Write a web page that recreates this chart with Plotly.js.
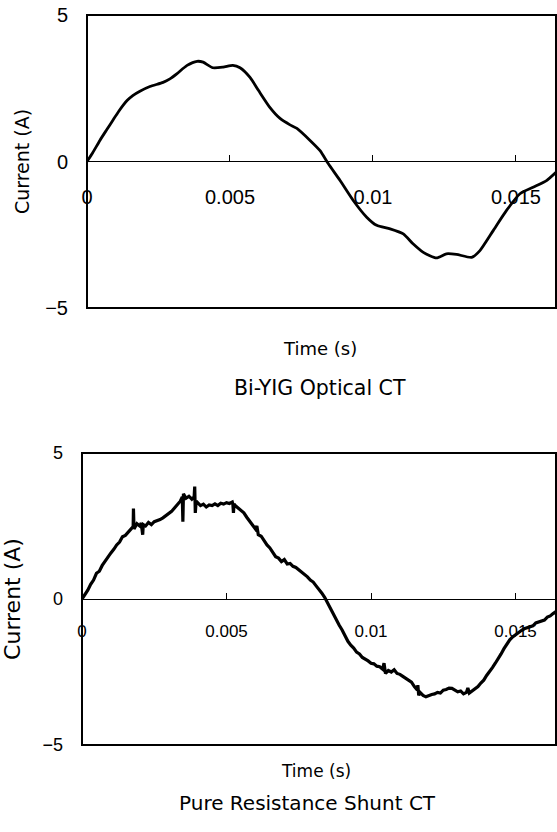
<!DOCTYPE html>
<html>
<head>
<meta charset="utf-8">
<script src="https://cdn.plot.ly/plotly-3.0.1.min.js"></script>
<style>html,body{margin:0;padding:0;background:#fff;}#chart{width:557px;height:832px;}</style>
</head>
<body>
<div id="chart"></div>
<script>
// Top chart: Bi-YIG Optical CT (time in s, current in A)
const topTime = [0, 0.0002, 0.00045, 0.0007, 0.0009, 0.0011, 0.0014, 0.0016, 0.00185, 0.0022, 0.00266, 0.0029, 0.00315, 0.0035, 0.00385, 0.00406, 0.0044, 0.00476, 0.0051, 0.00535, 0.0057, 0.006, 0.0064, 0.00675, 0.0071, 0.00734, 0.0078, 0.00815, 0.00844, 0.00885, 0.00931, 0.00978, 0.01013, 0.0106, 0.01106, 0.0114, 0.01176, 0.01222, 0.01257, 0.01292, 0.01345, 0.01374, 0.01421, 0.01467, 0.01514, 0.0156, 0.01607, 0.0164];
const topCurrent = [0, 0.3, 0.72, 1.1, 1.4, 1.7, 2.08, 2.25, 2.4, 2.56, 2.7, 2.82, 3.0, 3.28, 3.42, 3.39, 3.2, 3.22, 3.28, 3.2, 2.87, 2.42, 1.84, 1.47, 1.25, 1.13, 0.72, 0.37, -0.08, -0.65, -1.33, -1.9, -2.18, -2.3, -2.47, -2.81, -3.1, -3.29, -3.15, -3.17, -3.27, -3.04, -2.35, -1.67, -1.1, -0.88, -0.65, -0.37];

// Bottom chart: Pure Resistance Shunt CT (noisy trace, with spikes)
const botTime = [0, 0.0001, 0.0002, 0.0003, 0.0004, 0.0005, 0.0006, 0.0007, 0.0008, 0.0009, 0.001, 0.0011, 0.0012, 0.0013, 0.0014, 0.0015, 0.0016, 0.0017, 0.00177, 0.00178, 0.0018, 0.0019, 0.002, 0.00205, 0.0021, 0.00212, 0.0022, 0.0023, 0.0024, 0.0025, 0.0026, 0.0027, 0.0028, 0.0029, 0.003, 0.0031, 0.0032, 0.0033, 0.0034, 0.00347, 0.00349, 0.00351, 0.0036, 0.0037, 0.0038, 0.00388, 0.0039, 0.00392, 0.00395, 0.004, 0.0041, 0.0042, 0.0043, 0.0044, 0.0045, 0.0046, 0.0047, 0.0048, 0.0049, 0.005, 0.0051, 0.0052, 0.00522, 0.00524, 0.00526, 0.0053, 0.0054, 0.0055, 0.0056, 0.0057, 0.0058, 0.0059, 0.006, 0.00605, 0.0061, 0.0062, 0.0063, 0.0064, 0.0065, 0.0066, 0.0067, 0.0068, 0.0069, 0.007, 0.0071, 0.0072, 0.0073, 0.0074, 0.0075, 0.0076, 0.0077, 0.0078, 0.0079, 0.008, 0.0081, 0.0082, 0.0083, 0.0084, 0.0085, 0.0086, 0.0087, 0.0088, 0.0089, 0.009, 0.0091, 0.0092, 0.0093, 0.0094, 0.0095, 0.0096, 0.0097, 0.0098, 0.0099, 0.01, 0.0101, 0.0102, 0.0103, 0.0104, 0.01045, 0.0105, 0.0106, 0.0107, 0.0108, 0.0109, 0.011, 0.0111, 0.0112, 0.0113, 0.0114, 0.0115, 0.0116, 0.01162, 0.01165, 0.0117, 0.0118, 0.0119, 0.012, 0.0121, 0.0122, 0.0123, 0.0124, 0.0125, 0.0126, 0.0127, 0.0128, 0.0129, 0.013, 0.0131, 0.0132, 0.0133, 0.01335, 0.0134, 0.0135, 0.0136, 0.0137, 0.0138, 0.0139, 0.014, 0.0141, 0.0142, 0.0143, 0.0144, 0.0145, 0.0146, 0.0147, 0.0148, 0.0149, 0.015, 0.0151, 0.0152, 0.0153, 0.0154, 0.0155, 0.0156, 0.0157, 0.0158, 0.0159, 0.016, 0.0161, 0.0162, 0.0163, 0.0164];
const botCurrent = [0, 0.15, 0.3, 0.5, 0.65, 0.88, 0.95, 1.15, 1.3, 1.45, 1.58, 1.7, 1.85, 1.95, 2.13, 2.18, 2.3, 2.42, 2.48, 3.1, 2.4, 2.58, 2.5, 2.6, 2.2, 2.55, 2.5, 2.62, 2.55, 2.65, 2.68, 2.72, 2.78, 2.85, 2.92, 3.0, 3.12, 3.22, 3.35, 3.5, 2.65, 3.6, 3.45, 3.52, 3.42, 3.5, 3.85, 2.95, 3.35, 3.3, 3.2, 3.25, 3.15, 3.22, 3.2, 3.26, 3.2, 3.28, 3.25, 3.3, 3.27, 3.32, 3.25, 2.95, 3.25, 3.2, 3.12, 3.05, 2.95, 2.8, 2.68, 2.52, 2.4, 2.5, 2.2, 2.15, 2.0, 1.85, 1.75, 1.6, 1.45, 1.4, 1.28, 1.35, 1.2, 1.22, 1.12, 1.08, 1.0, 0.95, 0.85, 0.76, 0.65, 0.58, 0.45, 0.34, 0.2, 0.05, -0.15, -0.35, -0.52, -0.7, -0.9, -1.06, -1.25, -1.45, -1.58, -1.68, -1.82, -1.88, -2.0, -2.05, -2.12, -2.2, -2.22, -2.3, -2.32, -2.4, -2.2, -2.55, -2.45, -2.5, -2.42, -2.55, -2.58, -2.65, -2.72, -2.78, -2.85, -3.0, -3.12, -2.95, -3.3, -3.2, -3.3, -3.35, -3.3, -3.27, -3.25, -3.2, -3.22, -3.12, -3.1, -3.05, -3.06, -3.12, -3.18, -3.15, -3.25, -3.2, -3.05, -3.22, -3.15, -3.1, -3.0, -2.88, -2.78, -2.62, -2.5, -2.35, -2.2, -2.05, -1.88, -1.7, -1.55, -1.4, -1.3, -1.22, -1.15, -1.08, -1.02, -0.98, -0.95, -0.92, -0.82, -0.78, -0.75, -0.72, -0.62, -0.58, -0.5, -0.43];

const xTickVals = [0, 0.005, 0.01, 0.015];
const xTickText = ['0', '0.005', '0.01', '0.015'];
const yTickVals = [-5, 0, 5];
const yTickText = ['−5', '0', '5'];

const TICKFONT = 'Liberation Sans, Arial, sans-serif';
const TITLEFONT = 'DejaVu Sans, Noto Sans, sans-serif';
const W = 557, H = 832;
const px = v => v / W;
const py = v => 1 - v / H;

const traces = [
  {x: topTime, y: topCurrent, xaxis: 'x', yaxis: 'y', type: 'scatter', mode: 'lines',
   line: {color: '#000', width: 2.8, shape: 'spline', smoothing: 0.6}, showlegend: false, hoverinfo: 'skip'},
  {x: botTime, y: botCurrent, xaxis: 'x2', yaxis: 'y2', type: 'scatter', mode: 'lines',
   line: {color: '#000', width: 3.2}, showlegend: false, hoverinfo: 'skip'}
];

function xax(domain, yzero, fs, standoff) {
  return {
    domain: domain, range: [0, 0.0164], anchor: 'free', position: yzero,
    tickvals: xTickVals, ticktext: xTickText, ticks: 'inside', ticklen: 6, tickcolor: '#000', tickwidth: 1,
    showline: false, showgrid: false, zeroline: false, fixedrange: true,
    tickfont: {family: TICKFONT, size: fs, color: '#000'}, ticklabelstandoff: standoff,
    automargin: false
  };
}
function yax(domain, anchor, fs, standoff, titleSize, titleStandoff) {
  return {
    domain: domain, anchor: anchor, range: [-5, 5], tickvals: yTickVals, ticktext: yTickText, ticks: '',
    showline: false, showgrid: false, zeroline: true, zerolinecolor: '#000', zerolinewidth: 1,
    fixedrange: true, tickfont: {family: TICKFONT, size: fs, color: '#000'}, ticklabelstandoff: standoff,
    title: {text: 'Current (A)', font: {family: TITLEFONT, size: titleSize, color: '#000'}, standoff: titleStandoff},
    automargin: false
  };
}

const layout = {
  width: W, height: H, margin: {l: 0, r: 0, t: 0, b: 0}, paper_bgcolor: '#fff', plot_bgcolor: '#fff',
  showlegend: false,
  xaxis: xax([px(87), px(556)], py(161), 20, 22),
  yaxis: yax([py(308), py(15)], 'x', 20, 18, 19, 10),
  xaxis2: xax([px(82), px(556)], py(599), 17, 20),
  yaxis2: yax([py(745), py(453)], 'x2', 18, 18, 22, 15),
  shapes: [
    {type: 'rect', xref: 'x domain', yref: 'y domain', x0: 0, x1: 1, y0: 0, y1: 1, line: {color: '#000', width: 2}},
    {type: 'rect', xref: 'x2 domain', yref: 'y2 domain', x0: 0, x1: 1, y0: 0, y1: 1, line: {color: '#000', width: 2}}
  ],
  annotations: [
    {text: 'Time (s)', xref: 'paper', yref: 'paper', x: px(320), y: py(348), showarrow: false,
     font: {family: TITLEFONT, size: 18, color: '#000'}},
    {text: 'Bi-YIG Optical CT', xref: 'paper', yref: 'paper', x: px(320), y: py(388), showarrow: false,
     font: {family: TITLEFONT, size: 20.5, color: '#000'}},
    {text: 'Time (s)', xref: 'paper', yref: 'paper', x: px(316), y: py(783), showarrow: false,
     font: {family: TITLEFONT, size: 17, color: '#000'}},
    {text: 'Pure Resistance Shunt CT', xref: 'paper', yref: 'paper', x: px(307), y: py(817), showarrow: false,
     font: {family: TITLEFONT, size: 20, color: '#000'}}
  ]
};

Plotly.newPlot('chart', traces, layout, {staticPlot: true, displayModeBar: false});
</script>
</body>
</html>
